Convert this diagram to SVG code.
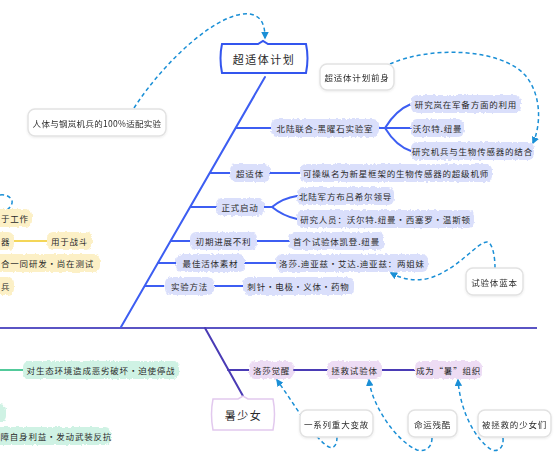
<svg xmlns="http://www.w3.org/2000/svg" width="554" height="472" viewBox="0 0 554 472">
<style>
text{font-family:"Noto Sans CJK SC","Noto Sans",sans-serif;fill:#2a2a2a;font-size:8.5px;letter-spacing:0.8px;dominant-baseline:central}
.c{text-anchor:middle}
.bl{fill:#dadffb}
.pu{fill:#eddcf4}
.ye{fill:#fcf0c6}
.gr{fill:#cff2e4}
.rough{filter:url(#rough)}
.note{fill:#fff;stroke:#e2e2e2;stroke-width:1.5}
.bline{stroke:#3d5ef2;stroke-width:2;fill:none;stroke-linecap:round}
.pline{stroke:#4a3bb5;stroke-width:2;fill:none;stroke-linecap:round}
.dash{stroke:#1a8fd6;stroke-width:1.5;fill:none;stroke-dasharray:4 3}
.dasha{stroke:#1a8fd6;stroke-width:1.5;fill:none;stroke-dasharray:4 3;marker-end:url(#ah)}
.big{font-size:11px;letter-spacing:1.5px}
</style>
<defs>
<filter id="rough" x="-5%" y="-20%" width="110%" height="140%">
<feTurbulence type="fractalNoise" baseFrequency="0.35" numOctaves="2" seed="3"/>
<feDisplacementMap in="SourceGraphic" scale="3.5" xChannelSelector="R" yChannelSelector="G"/>
</filter>
<filter id="sh" x="-10%" y="-20%" width="120%" height="150%">
<feDropShadow dx="0" dy="1" stdDeviation="1" flood-color="#000" flood-opacity="0.08"/>
</filter>
<marker id="ah" viewBox="0 0 10 10" refX="8" refY="5" markerWidth="5" markerHeight="5" orient="auto">
<path d="M0,0 L10,5 L0,10 Z" fill="#1a8fd6"/>
</marker>
</defs>
<rect width="554" height="472" fill="#fff"/>

<g id="connectors">
<path d="M0,328 H537" stroke="#5a54c4" stroke-width="2" fill="none"/>
<path class="bline" d="M265,77 L121,327"/>
<path class="bline" d="M236,128 H271"/>
<path class="bline" d="M379,128 H385 M385,128 Q396,110 411,104 M385,128 H411 M385,128 Q396,146 411,151"/>
<path class="bline" d="M210,173 H230 M270,173 H300"/>
<path class="bline" d="M191,207 H216 M264,207 H272 Q283,198 297,196 M272,207 Q283,216 297,219"/>
<path class="bline" d="M171,241 H190 M257,241 H289"/>
<path class="bline" d="M158,263 H176 M245,263 H276"/>
<path class="bline" d="M145,286 H165 M214,286 H243"/>
<path class="pline" d="M205,328 L243,396"/>
<path class="pline" d="M228,370 H249 M294,370 H327 M382,370 H415"/>
<path d="M14,241 H48" stroke="#f0c820" stroke-width="1.5" fill="none"/>
<path d="M0,370 H24" stroke="#19b87a" stroke-width="1.5" fill="none"/>
<path class="dasha" d="M134,108 C165,60 220,10 250,14 C262,16 265,26 265,38"/>
<path class="dasha" d="M390,64 C430,46 500,48 525,75 C542,95 541,125 533,143"/>
<path class="dasha" d="M495,268 C495,255 492,242 487,242 C477,242 460,268 430,278 C415,282 402,279 391,273"/>
<path class="dasha" d="M337,437 C337,445 334,449 329,447 C315,440 295,405 277,380"/>
<path class="dasha" d="M432,438 C432,448 425,452 417,450 C395,440 372,405 369,380"/>
<path class="dasha" d="M503,438 C504,448 498,452 492,450 C475,440 460,410 458,380"/>
<path class="dash" d="M0,195 C8,194 13,199 12,203 C11,208 6,211 1,213"/>
</g>

<g id="root">
<path d="M222,44 L258,44 L263,41 L268,44 L306,44 Q309,58 306,73 L222,73 Q219,58 222,44 Z" fill="#fff" stroke="#3355ee" stroke-width="2"/>
<text class="c big" x="264" y="58.5">超适体计划</text>
</g>

<g id="n-lab"><rect class="bl rough" x="271" y="119" width="108" height="18" rx="6"/><text class="c" x="325" y="128">北陆联合-黑曜石实验室</text></g>
<g id="n-lab-1"><rect class="bl rough" x="411" y="95" width="110" height="18" rx="6"/><text class="c" x="466" y="104">研究岚在军备方面的利用</text></g>
<g id="n-lab-2"><rect class="bl rough" x="411" y="119" width="53" height="18" rx="6"/><text class="c" x="437.5" y="128">沃尔特.纽曼</text></g>
<g id="n-lab-3"><rect class="bl rough" x="411" y="142" width="123" height="18" rx="6"/><text class="c" x="472.5" y="151">研究机兵与生物传感器的结合</text></g>

<g id="n-sf"><rect class="bl rough" x="230" y="164" width="40" height="18" rx="6"/><text class="c" x="250" y="173">超适体</text></g>
<g id="n-sf-1"><rect class="bl rough" x="300" y="164" width="192" height="18" rx="6"/><text class="c" x="396" y="173">可操纵名为新星框架的生物传感器的超级机师</text></g>

<g id="n-start"><rect class="bl rough" x="216" y="198" width="48" height="18" rx="6"/><text class="c" x="240" y="207">正式启动</text></g>
<g id="n-start-1"><rect class="bl rough" x="297" y="187" width="97" height="18" rx="6"/><text class="c" x="345.5" y="196">北陆军方布吕希尔领导</text></g>
<g id="n-start-2"><rect class="bl rough" x="297" y="210" width="177" height="18" rx="6"/><text class="c" x="385.5" y="219">研究人员：沃尔特.纽曼・西塞罗・温斯顿</text></g>

<g id="n-early"><rect class="bl rough" x="190" y="232" width="67" height="18" rx="6"/><text class="c" x="223.5" y="241">初期进展不利</text></g>
<g id="n-early-1"><rect class="bl rough" x="289" y="232" width="95" height="18" rx="6"/><text class="c" x="336.5" y="241">首个试验体凯登.纽曼</text></g>

<g id="n-best"><rect class="bl rough" x="176" y="254" width="69" height="18" rx="6"/><text class="c" x="210.5" y="263">最佳活体素材</text></g>
<g id="n-best-1"><rect class="bl rough" x="276" y="254" width="152" height="18" rx="6"/><text class="c" x="352" y="263">洛莎.迪亚兹・艾达.迪亚兹：两姐妹</text></g>

<g id="n-method"><rect class="bl rough" x="165" y="277" width="49" height="18" rx="6"/><text class="c" x="189.5" y="286">实验方法</text></g>
<g id="n-method-1"><rect class="bl rough" x="243" y="277" width="111" height="18" rx="6"/><text class="c" x="298.5" y="286">刺针・电极・义体・药物</text></g>

<g id="note-100" filter="url(#sh)"><rect class="note" x="28" y="109" width="138" height="27" rx="7"/><text class="c" x="97" y="122.5" style="letter-spacing:0.3px">人体与钢岚机兵的100%适配实验</text></g>
<g id="note-pre" filter="url(#sh)"><rect class="note" x="320" y="64" width="74" height="26" rx="7"/><text class="c" x="357" y="77">超适体计划前身</text></g>
<g id="note-blue" filter="url(#sh)"><rect class="note" x="466" y="268" width="57" height="27" rx="7"/><text class="c" x="494.5" y="281.5">试验体蓝本</text></g>

<g id="n-girls">
<path d="M213,399 L238,399 L243,396 L248,399 L273,399 Q276,414 273,430 L213,430 Q210,414 213,399 Z" fill="#fff" stroke="#e2c9ee" stroke-width="1.5"/>
<text class="c big" x="243.5" y="415">暑少女</text>
</g>
<g id="n-wake"><rect class="pu rough" x="249" y="361" width="45" height="18" rx="6"/><text class="c" x="271.5" y="370">洛莎觉醒</text></g>
<g id="n-rescue"><rect class="pu rough" x="327" y="361" width="55" height="18" rx="6"/><text class="c" x="354.5" y="370">拯救试验体</text></g>
<g id="n-become"><rect class="pu rough" x="415" y="361" width="67" height="18" rx="6"/><text class="c" x="448.5" y="370">成为“暑”组织</text></g>

<g id="note-change" filter="url(#sh)"><rect class="note" x="300" y="410" width="73" height="27" rx="7"/><text class="c" x="336.5" y="423.5">一系列重大变故</text></g>
<g id="note-fate" filter="url(#sh)"><rect class="note" x="408" y="410" width="49" height="27" rx="7"/><text class="c" x="432.5" y="423.5">命运残酷</text></g>
<g id="note-saved" filter="url(#sh)"><rect class="note" x="478" y="410" width="73" height="27" rx="7"/><text class="c" x="514.5" y="423.5">被拯救的少女们</text></g>

<g id="n-y1"><rect class="ye rough" x="-10" y="209" width="42" height="18" rx="6"/><text x="1" y="218">于工作</text></g>
<g id="n-y2"><rect class="ye rough" x="-10" y="232" width="24" height="18" rx="6"/><text x="1" y="241">器</text></g>
<g id="n-y2-1"><rect class="ye rough" x="47" y="232" width="45" height="18" rx="6"/><text class="c" x="69.5" y="241">用于战斗</text></g>
<g id="n-y3"><rect class="ye rough" x="-10" y="254" width="110" height="18" rx="6"/><text x="1" y="263">合一同研发・尚在测试</text></g>
<g id="n-y4"><rect class="ye rough" x="-10" y="277" width="24" height="18" rx="6"/><text x="1" y="286">兵</text></g>

<g id="n-g1"><rect class="gr rough" x="23" y="361" width="156" height="18" rx="6"/><text class="c" x="101" y="370">对生态环境造成恶劣破坏・迫使停战</text></g>
<g id="n-g2"><rect class="gr rough" x="-10" y="404" width="16" height="18" rx="6"/></g>
<g id="n-g3"><rect class="gr rough" x="-10" y="427" width="121" height="18" rx="6"/><text x="0.5" y="436">障自身利益・发动武装反抗</text></g>
</svg>
